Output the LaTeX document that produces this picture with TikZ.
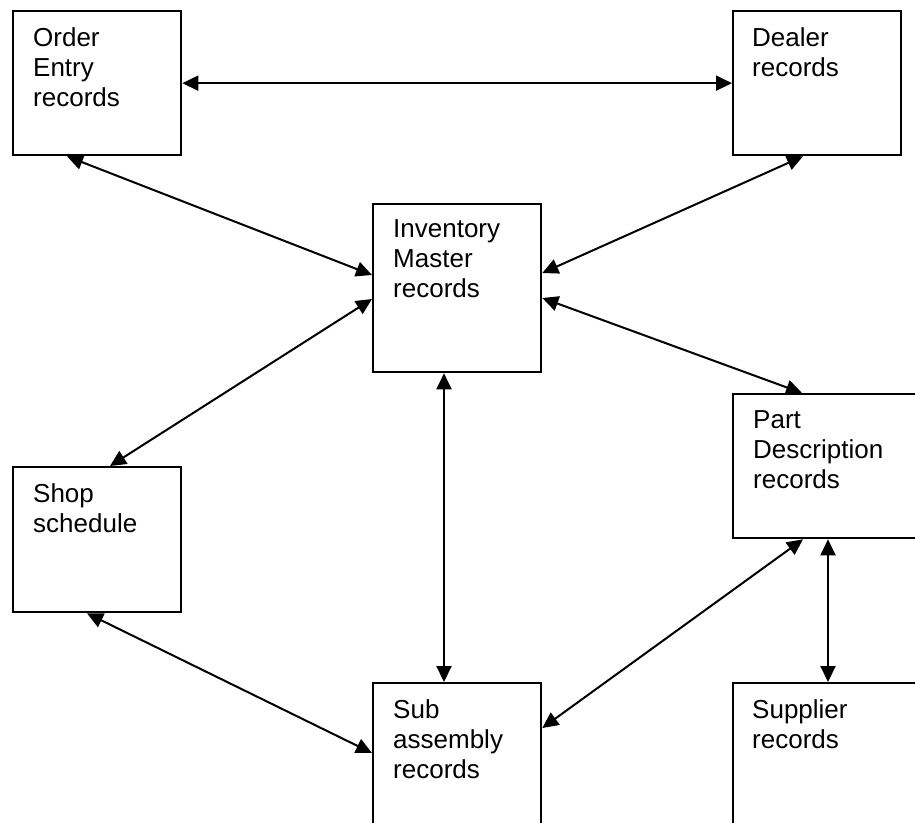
\documentclass[tikz,border=0pt]{standalone}
\usepackage{fontspec}
\setmainfont{Liberation Sans}
\usetikzlibrary{arrows.meta,calc}

\tikzset{
  recbox/.style={draw, line width=2.3pt, anchor=north west, inner sep=0pt,
    minimum width=168pt, minimum height=144pt},
  rectext/.style={anchor=north west, inner sep=0pt, align=left,
    font=\fontsize{26}{30}\selectfont},
  link/.style={line width=2pt,
    {Triangle[length=16pt,width=15pt]}-{Triangle[length=16pt,width=15pt]}}
}

\begin{document}
\begin{tikzpicture}[x=1pt,y=-1pt]
  \useasboundingbox (0,0) rectangle (915,822);
  \clip (0,0) rectangle (915,822);

  % record boxes
  \node[recbox] (oe)  at (12,10)   {};
  \node[recbox] (dl)  at (732,10)  {};
  \node[recbox, minimum height=168pt] (inv) at (372,203) {};
  \node[recbox, minimum width=210pt] (pd) at (732,393) {};
  \node[recbox, minimum height=145pt] (sh) at (12,466) {};
  \node[recbox, minimum height=200pt] (sub) at (372,682) {};
  \node[recbox, minimum width=210pt, minimum height=200pt] (sup) at (732,682) {};

  % box captions
  \node[rectext] (oet)  at ($(oe.north west)+(21,17.4)$)  {Order\\Entry\\records};
  \node[rectext] (dlt)  at ($(dl.north west)+(20,17.4)$)  {Dealer\\records};
  \node[rectext] (invt) at ($(inv.north west)+(21,16.4)$) {Inventory\\Master\\records};
  \node[rectext] (pdt)  at ($(pd.north west)+(21,17.4)$)  {Part\\Description\\records};
  \node[rectext] (sht)  at ($(sh.north west)+(21,17.4)$)  {Shop\\schedule};
  \node[rectext] (subt) at ($(sub.north west)+(21,17.4)$) {Sub\\assembly\\records};
  \node[rectext] (supt) at ($(sup.north west)+(20,17.4)$) {Supplier\\records};

  % connections between record files
  \draw[link] (oe.east) -- (dl.west);
  \draw[link] ($(oe.south west)+(55,0)$) -- ($(inv.north west)+(0,72)$);
  \draw[link] ($(dl.south west)+(71,0)$) -- ($(inv.north east)+(0,70)$);
  \draw[link] ($(sh.north west)+(98,0)$) -- ($(inv.north west)+(0,96)$);
  \draw[link] ($(inv.north east)+(0,95)$) -- ($(pd.north west)+(70,0)$);
  \draw[link] ($(inv.south west)+(72,0)$) -- ($(sub.north west)+(72,0)$);
  \draw[link] ($(sh.south west)+(75,0)$) -- ($(sub.north west)+(0,71)$);
  \draw[link] ($(pd.south west)+(71,0)$) -- ($(sub.north east)+(0,46)$);
  \draw[link] ($(pd.south west)+(96,0)$) -- ($(sup.north west)+(96,0)$);
\end{tikzpicture}
\end{document}
